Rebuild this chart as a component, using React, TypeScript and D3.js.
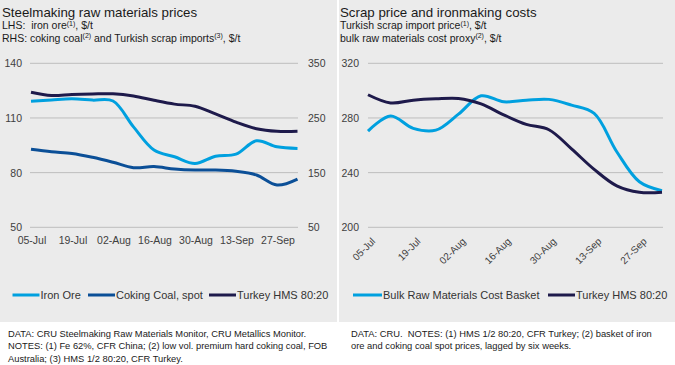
import React, { useEffect, useRef } from "react";
import * as d3 from "d3";

// weekly observations
const weeks = [
  "05-Jul", "12-Jul", "19-Jul", "26-Jul", "02-Aug", "09-Aug", "16-Aug",
  "23-Aug", "30-Aug", "06-Sep", "13-Sep", "20-Sep", "27-Sep", "04-Oct",
];
const tickWeeks = ["05-Jul", "19-Jul", "02-Aug", "16-Aug", "30-Aug", "13-Sep", "27-Sep"];

const ironOre = [119.2, 119.9, 120.5, 119.8, 119.3, 105.1, 92.4, 88.7, 85.0, 89.0, 90.2, 97.5, 94.2, 93.3];
const cokingCoal = [192.6, 188, 185, 178, 169, 159, 161, 156.6, 154.7, 154.7, 152.4, 145.6, 127.3, 138.3];
const turkeyHms = [297, 291, 293, 294, 294.3, 290.3, 282.3, 275.3, 271.4, 257.4, 242.4, 230.3, 225.6, 225.6];
const basket = [270.4, 281.4, 272.4, 271.1, 282.8, 296.2, 291.8, 293, 293.6, 289.4, 283.3, 255.3, 233.3, 226.8];

const leftTicks = [50, 80, 110, 140];
const rightTicks = [50, 150, 250, 350];
const scrapTicks = [200, 240, 280, 320];

const LIGHT = "#00a0df";
const MID = "#0b4f97";
const NAVY = "#1e1a4b";
const FONT = "Arial, 'Liberation Sans', sans-serif";

const App = () => {
  const ref = useRef(null);

  useEffect(() => {
    const svg = d3.select(ref.current);
    svg.selectAll("*").remove();

    svg.append("rect").attr("width", 675).attr("height", 365).attr("fill", "#fff");
    svg.append("rect").attr("x", 0).attr("y", 0).attr("width", 337).attr("height", 322).attr("fill", "#ebebeb");
    svg.append("rect").attr("x", 339).attr("y", 0).attr("width", 336).attr("height", 322).attr("fill", "#ebebeb");

    const text = (x, y, size, str, color = "#1a1a1a") =>
      svg.append("text").attr("x", x).attr("y", y).attr("font-family", FONT)
        .attr("font-size", size).attr("fill", color).text(str);

    // superscripted text parts: [string, isSup]
    const rich = (x, y, parts) => {
      const t = svg.append("text").attr("x", x).attr("y", y).attr("font-family", FONT)
        .attr("font-size", 10.5).attr("fill", "#1a1a1a");
      let lift = 0;
      parts.forEach(([s, sup]) => {
        const target = sup ? -3.5 : 0;
        t.append("tspan").attr("font-size", sup ? 7 : 10.5).attr("dy", target - lift).text(s);
        lift = target;
      });
    };

    // titles
    text(2, 17, 13.3, "Steelmaking raw materials prices");
    rich(2, 29, [["LHS:\u00a0 iron ore", false], ["(1)", true], [", $/t", false]]);
    rich(2, 41.5, [["RHS: coking coal", false], ["(2)", true], [" and Turkish scrap imports", false], ["(3)", true], [", $/t", false]]);
    text(340, 17, 13.3, "Scrap price and ironmaking costs");
    rich(340, 29, [["Turkish scrap import price", false], ["(1)", true], [", $/t", false]]);
    rich(340, 41.5, [["bulk raw materials cost proxy", false], ["(2)", true], [", $/t", false]]);

    const y0 = 227.3, y1 = 63.3;

    // ---- left chart
    const xL = d3.scalePoint().domain(weeks).range([31, 297.5]);
    const yL = d3.scaleLinear().domain([50, 140]).range([y0, y1]);
    const yR = d3.scaleLinear().domain([50, 350]).range([y0, y1]);

    const gL = svg.append("g");
    gL.selectAll("line.grid").data(leftTicks).enter().append("line")
      .attr("x1", 30).attr("x2", 298).attr("y1", (d) => yL(d)).attr("y2", (d) => yL(d))
      .attr("stroke", "#bdbdbd").attr("stroke-width", 1);
    gL.selectAll("text.l").data(leftTicks).enter().append("text")
      .attr("x", 22).attr("y", (d) => yL(d) + 4).attr("text-anchor", "end")
      .attr("font-family", FONT).attr("font-size", 10.5).attr("fill", "#404040").text((d) => d);
    gL.selectAll("text.r").data(rightTicks).enter().append("text")
      .attr("x", 308).attr("y", (d) => yR(d) + 4)
      .attr("font-family", FONT).attr("font-size", 10.5).attr("fill", "#404040").text((d) => d);
    gL.selectAll("text.x").data(tickWeeks).enter().append("text")
      .attr("x", (d) => xL(d) + 1).attr("y", 244).attr("text-anchor", "middle")
      .attr("font-family", FONT).attr("font-size", 10.5).attr("fill", "#404040").text((d) => d);

    const lineL = (scale) => d3.line().x((d, i) => xL(weeks[i])).y((d) => scale(d)).curve(d3.curveCatmullRom);
    [[ironOre, yL, LIGHT], [cokingCoal, yR, MID], [turkeyHms, yR, NAVY]].forEach(([data, sc, c]) => {
      gL.append("path").attr("d", lineL(sc)(data)).attr("fill", "none")
        .attr("stroke", c).attr("stroke-width", 3).attr("stroke-linejoin", "round");
    });

    // ---- right chart
    const xS = d3.scalePoint().domain(weeks).range([368, 662]);
    const yS = d3.scaleLinear().domain([200, 320]).range([y0, y1]);
    const gR = svg.append("g");
    gR.selectAll("line.grid").data(scrapTicks).enter().append("line")
      .attr("x1", 368).attr("x2", 663).attr("y1", (d) => yS(d)).attr("y2", (d) => yS(d))
      .attr("stroke", "#bdbdbd").attr("stroke-width", 1);
    gR.selectAll("text.l").data(scrapTicks).enter().append("text")
      .attr("x", 359).attr("y", (d) => yS(d) + 4).attr("text-anchor", "end")
      .attr("font-family", FONT).attr("font-size", 10.5).attr("fill", "#404040").text((d) => d);
    gR.selectAll("text.x").data(tickWeeks).enter().append("text")
      .attr("transform", (d) => `translate(${xS(d) + 3},${237}) rotate(-45)`)
      .attr("text-anchor", "end").attr("dy", "0.7em")
      .attr("font-family", FONT).attr("font-size", 10).attr("fill", "#404040").text((d) => d);

    const lineS = d3.line().x((d, i) => xS(weeks[i])).y((d) => yS(d)).curve(d3.curveCatmullRom);
    [[basket, LIGHT], [turkeyHms, NAVY]].forEach(([data, c]) => {
      gR.append("path").attr("d", lineS(data)).attr("fill", "none")
        .attr("stroke", c).attr("stroke-width", 3).attr("stroke-linejoin", "round");
    });

    // legends
    const legend = (items, y) => {
      items.forEach(([x, w, label, c]) => {
        svg.append("line").attr("x1", x).attr("x2", x + w).attr("y1", y).attr("y2", y)
          .attr("stroke", c).attr("stroke-width", 3);
        text(x + w + 1, y + 4, 11, label, "#333");
      });
    };
    legend([[12.5, 27, "Iron Ore", LIGHT], [88, 27, "Coking Coal, spot", MID], [209, 27, "Turkey HMS 80:20", NAVY]], 295);
    legend([[353, 29, "Bulk Raw Materials Cost Basket", LIGHT], [548, 27, "Turkey HMS 80:20", NAVY]], 295);

    // notes
    const notesL = [
      "DATA: CRU Steelmaking Raw Materials Monitor, CRU Metallics Monitor.",
      "NOTES: (1) Fe 62%, CFR China; (2) low vol. premium hard coking coal, FOB",
      "Australia; (3) HMS 1/2 80:20, CFR Turkey.",
    ];
    notesL.forEach((s, i) => text(8, 337 + i * 12.3, 9.35, s, "#1a1a1a"));
    const notesR = [
      "DATA: CRU.\u00a0 NOTES: (1) HMS 1/2 80:20, CFR Turkey; (2) basket of iron",
      "ore and coking coal spot prices, lagged by six weeks.",
    ];
    notesR.forEach((s, i) => text(351, 337 + i * 12.3, 9.35, s, "#1a1a1a"));
  }, []);

  return (
    <svg ref={ref} width={675} height={365} style={{ position: "absolute", left: 0, top: 0 }} />
  );
};

export default App;
